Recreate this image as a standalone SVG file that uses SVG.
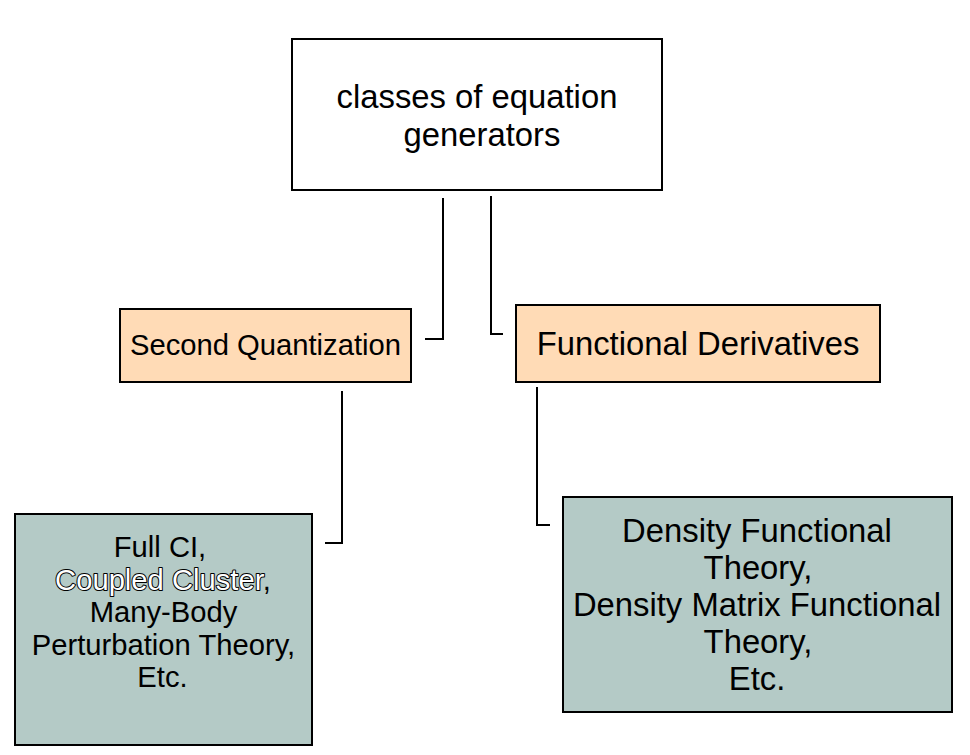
<svg xmlns="http://www.w3.org/2000/svg" width="970" height="755" viewBox="0 0 970 755">
  <style>
    .box { stroke: #000; stroke-width: 2; }
    .top { fill: #fff; }
    .peach { fill: #ffdbb6; }
    .grey { fill: #b4cac6; }
    .t { font-family: "Liberation Sans", Arial, sans-serif; fill: #000; text-anchor: middle; }
    .big { font-size: 32.8px; }
    .small { font-size: 29.2px; }
    .outline { fill: #fff; stroke: #000; stroke-width: 2px; paint-order: stroke; stroke-linejoin: round; }
    .conn { fill: none; stroke: #000; stroke-width: 2; }
  </style>
  <rect width="970" height="755" fill="#fff"/>
  <g id="connectors">
    <polyline class="conn" points="443,198 443,339 425,339"/>
    <polyline class="conn" points="491,196 491,334 503,334"/>
    <polyline class="conn" points="342,391 342,543 325,543"/>
    <polyline class="conn" points="537,387 537,525 550,525"/>
  </g>
  <g id="node-root">
    <rect class="box top" x="292" y="39" width="370" height="151"/>
    <text class="t big" x="477" y="108">classes of equation</text>
    <text class="t big" x="482" y="145.5">generators</text>
  </g>
  <g id="node-second-quantization">
    <rect class="box peach" x="120" y="309" width="291" height="73"/>
    <text class="t small" x="265.5" y="355">Second Quantization</text>
  </g>
  <g id="node-functional-derivatives">
    <rect class="box peach" x="516" y="305" width="364" height="77"/>
    <text class="t big" x="698" y="355">Functional Derivatives</text>
  </g>
  <g id="node-sq-methods">
    <rect class="box grey" x="15" y="514" width="297" height="231"/>
    <text class="t small" x="160" y="557">Full CI,</text>
    <text class="t small" x="163" y="589.5"><tspan class="outline">Coupled Cluster</tspan>,</text>
    <text class="t small" x="163.5" y="622">Many-Body</text>
    <text class="t small" x="163.5" y="654.5">Perturbation Theory,</text>
    <text class="t small" x="162.5" y="687">Etc.</text>
  </g>
  <g id="node-fd-methods">
    <rect class="box grey" x="563" y="497" width="389" height="215"/>
    <text class="t big" x="757" y="542">Density Functional</text>
    <text class="t big" x="758" y="579">Theory,</text>
    <text class="t big" x="757" y="616">Density Matrix Functional</text>
    <text class="t big" x="758" y="653">Theory,</text>
    <text class="t big" x="757" y="690">Etc.</text>
  </g>
</svg>
